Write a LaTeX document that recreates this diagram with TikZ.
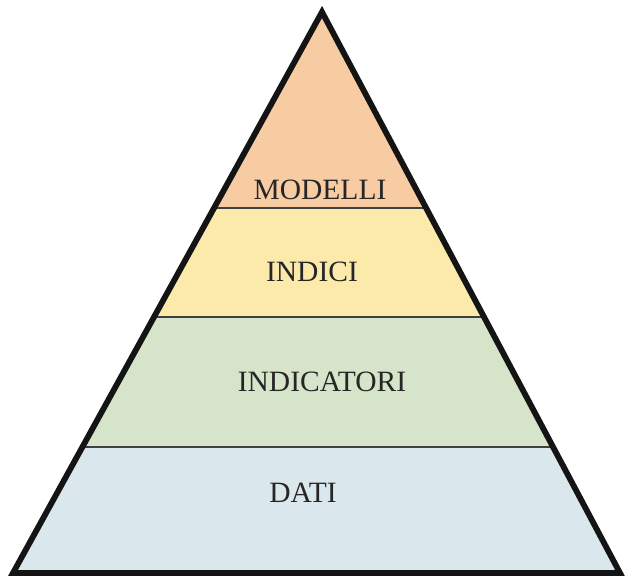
\documentclass[tikz,border=0pt]{standalone}
\usepackage{fontspec}
\setmainfont{Liberation Serif}
\definecolor{modelli}{HTML}{F8CCA2}
\definecolor{indici}{HTML}{FCEAAA}
\definecolor{indicatori}{HTML}{D6E4C9}
\definecolor{dati}{HTML}{DAE7EC}
\definecolor{ink}{HTML}{262626}
\tikzset{
  level/.style={font=\fontsize{29.5}{30}\selectfont,text=ink},
  divider/.style={line width=2.8pt,black!75},
  outline/.style={line width=5.8pt,black!92,line join=miter}
}

\begin{document}
\begin{tikzpicture}[x=1pt,y=-1pt]
  \useasboundingbox (0,0) rectangle (627,578);
  \coordinate (top) at (322,12);
  \coordinate (bl) at (13,573);
  \coordinate (br) at (620,573);
  \begin{scope}
    \clip (top)--(bl)--(br)--cycle;
    \fill[modelli] (0,0) rectangle (627,208);
    \fill[indici] (0,208) rectangle (627,317);
    \fill[indicatori] (0,317) rectangle (627,447);
    \fill[dati] (0,447) rectangle (627,578);
    \draw[divider] (0,208)--(627,208);
    \draw[divider] (0,317)--(627,317);
    \draw[divider] (0,447)--(627,447);
  \end{scope}
  \draw[outline] (top)--(bl)--(br)--cycle;
  \node[level] (modelli) at (320,190) {MODELLI};
  \node[level] (indici) at (312,272) {INDICI};
  \node[level] (indicatori) at (322,382) {INDICATORI};
  \node[level] (dati) at (303,493) {DATI};
\end{tikzpicture}
\end{document}
